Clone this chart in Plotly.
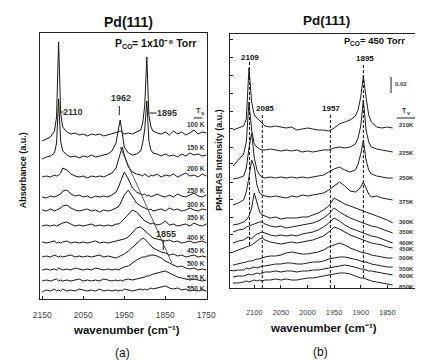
import plotly.graph_objects as go

W, H = 424, 360
FONT = "Liberation Sans, Arial, sans-serif"

# ---------------- Panel (a): Pd(111), P_CO = 1e-6 Torr ----------------
WN_A = [2150, 2140, 2130, 2120, 2115, 2110, 2105, 2100, 2090, 2080, 2070, 2060,
        2050, 2040, 2030, 2020, 2010, 2000, 1990, 1980, 1970, 1965, 1960, 1955,
        1950, 1940, 1930, 1920, 1910, 1905, 1900, 1895, 1890, 1885, 1880, 1870,
        1860, 1850, 1840, 1830, 1820, 1810, 1800, 1790, 1780, 1770, 1760, 1750]

TEMPS_A = ["100 K", "150 K", "200 K", "250 K", "300 K", "350 K",
           "400 K", "450 K", "500 K", "525 K", "550 K"]
OFFSETS_A = [164, 142, 122, 102, 88, 73, 56, 42, 29, 18, 8]

A_100K = [-6, -4, -2, 4, 18, 93, 22, 8, 3, 1, 2, 0, 1, -1, 1, 0, 1, -1, 0, 1, 2, 3, 4, 3,
          1, 2, 1, 3, 5, 12, 30, 78, 20, 8, 4, 2, 1, 3, 0, 4, 1, 3, 0, 2, 5, 1, 3, 2]
A_150K = [-2, 0, 1, 4, 14, 58, 16, 6, 2, 0, 1, -1, 1, 0, 2, 0, 1, 2, 3, 6, 14, 26, 37, 24,
          10, 4, 2, 3, 6, 14, 28, 56, 16, 7, 4, 3, 1, 3, 1, 2, 0, 3, 1, 4, 2, 3, 1, 2]
A_200K = [0, 1, 0, 2, 1, 2, 4, 9, 7, 3, 1, 0, 1, -1, 1, 0, 1, 0, 2, 4, 9, 16, 25, 30,
          22, 10, 5, 3, 2, 1, 3, 1, 0, 2, 1, 3, 0, 2, 1, 3, 0, 2, 4, 1, 2, 0, 3, 1]
A_250K = [0, -1, 1, 0, 1, 2, 3, 6, 7, 3, 1, 2, 0, 1, -1, 1, 0, 1, 0, 2, 5, 9, 15, 21,
          25, 18, 9, 5, 3, 2, 3, 1, 2, 0, 1, 3, 1, 0, 2, 0, 3, 1, 0, 2, 4, 1, 0, 2]
A_300K = [1, 0, 2, 0, 1, 2, 3, 5, 6, 3, 1, 0, 1, 2, 0, 1, -1, 1, 0, 1, 3, 4, 7, 11,
          16, 21, 14, 8, 5, 4, 3, 2, 1, 2, 0, 1, 2, 0, 3, 1, 2, 0, 1, 3, 1, 0, 2, 1]
A_350K = [0, 1, 0, 1, 0, 1, 2, 3, 4, 2, 0, 1, 0, 1, 2, 0, 1, 0, 1, 0, 2, 2, 3, 5,
          7, 11, 16, 14, 9, 7, 5, 4, 3, 2, 3, 1, 2, 5, 1, 2, 0, 1, 2, 0, 3, 1, 0, 2]
A_400K = [1, 0, 1, 2, 0, 1, 0, 1, 2, 0, 1, 0, 1, 0, 1, 2, 0, 1, 0, 1, 2, 2, 3, 3,
          4, 6, 10, 15, 16, 14, 12, 10, 8, 7, 5, 4, 3, 2, 3, 1, 2, 0, 1, 2, 0, 1, 2, 0]
A_450K = [0, 1, 0, 2, 1, 0, 1, 0, 1, 2, 0, 1, 0, 1, 0, 1, 2, 0, 1, 0, -1, 0, 1, 2,
          3, 6, 10, 14, 18, 19, 18, 16, 13, 11, 9, 7, 5, 4, 2, 3, 1, 2, 0, 1, 2, 0, 1, 0]
A_500K = [0, 1, 0, 1, 0, 2, 1, 0, 1, 0, 2, 1, 0, 1, 0, 2, 1, 0, 1, 0, 1, 0, 1, 2,
          3, 4, 7, 10, 12, 13, 13, 14, 14, 15, 15, 14, 12, 9, 7, 5, 3, 4, 2, 1, 2, 0, 1, 0]
A_525K = [0, 1, 0, 1, 2, 0, 1, 0, 1, 0, 1, 2, 0, 1, 0, 1, 0, 2, 1, 0, 1, 0, 1, 0,
          1, 2, 1, 2, 3, 3, 4, 5, 5, 6, 7, 8, 9, 10, 8, 6, 4, 3, 2, 1, 2, 1, 0, 1]
A_550K = [-1, 1, 0, 2, 0, 1, 0, 2, 0, 1, 0, 2, 1, 0, 1, 0, 2, 0, 1, 0, 1, 0, 1, 0,
          2, 1, 0, 1, 2, 1, 2, 1, 2, 3, 2, 3, 4, 5, 3, 2, 3, 1, 2, 0, 1, 0, 1, 0]
SPECTRA_A = [A_100K, A_150K, A_200K, A_250K, A_300K, A_350K,
             A_400K, A_450K, A_500K, A_525K, A_550K]
TICKS_A = [2150, 2050, 1950, 1850, 1750]

# ---------------- Panel (b): Pd(111), P_CO = 450 Torr ----------------
WN_B = [2140, 2130, 2120, 2115, 2110, 2105, 2100, 2095, 2090, 2085, 2080, 2070,
        2060, 2050, 2040, 2030, 2020, 2010, 2000, 1990, 1980, 1970, 1960, 1950,
        1940, 1930, 1920, 1910, 1905, 1900, 1895, 1890, 1885, 1880, 1870, 1860,
        1850, 1840]

TEMPS_B = ["210K", "225K", "250K", "375K", "300K", "350K",
           "400K", "450K", "500K", "550K", "600K", "650K"]
OFFSETS_B = [161, 138, 110, 91, 70, 61, 52, 45, 30, 22, 15, 7]

B_210K = [-3, -1, 1, 8, 59, 25, 12, 9, 6, 3, 1, 0, 1, 0, -1, 0, -3, -2, -1, -2, -3, -3, -4, -1,
          3, 5, 7, 11, 17, 30, 51, 30, 12, 5, 0, -1, 0, -1]
B_225K = [-16, -10, -4, 8, 48, 20, 6, 3, 1, 0, 0, 1, 0, -1, 0, -1, 0, -2, -1, -2, -1, 0, 0, 2,
          3, 2, 3, 6, 12, 24, 50, 20, 8, 3, 1, 0, -1, -2]
B_250K = [-1, 0, 2, 10, 30, 45, 20, 8, 3, 1, 0, 1, 0, 1, 0, 1, 0, 1, 0, 1, 2, 3, 6, 9,
          11, 8, 6, 8, 14, 24, 38, 18, 8, 4, 2, 1, 0, 0]
B_375K = [-8, -6, -3, 5, 20, 37, 30, 12, 4, 2, 1, 0, 1, 0, -1, 1, 0, 2, 1, 2, 3, 4, 7, 11,
          15, 11, 6, 5, 7, 10, 15, 9, 3, 0, 1, -1, -2, -3]
B_300K = [-7, -6, -4, -2, 2, 10, 25, 15, 6, 3, 2, 0, 1, -1, 0, 0, 0, 1, 1, 3, 5, 8, 12, 20,
          17, 14, 12, 10, 9, 8, 7, 6, 5, 4, 2, 0, -2, -5]
B_350K = [-5, -3, -2, 0, 1, 2, 3, 4, 5, 5, 3, 1, 0, 1, -1, 0, 1, 2, 3, 4, 6, 9, 13, 19,
          15, 12, 9, 7, 6, 5, 4, 3, 2, 1, 0, -2, -4, -6]
B_400K = [-7, -5, -4, -2, -1, -3, 0, 2, 3, 4, 3, 1, 0, 1, 0, 1, 0, 2, 3, 4, 6, 9, 13, 18,
          15, 11, 8, 6, 5, 4, 3, 2, 1, 0, -1, -3, -5, -7]
B_450K = [-9, -7, -5, -4, -3, -2, 0, 2, 4, 5, 3, 1, 0, -1, 0, 1, 0, 1, 2, 3, 5, 7, 11, 16,
          14, 11, 8, 6, 5, 4, 3, 2, 1, 0, -1, -2, -4, -5]
B_500K = [-7, -6, -5, -4, -3, -3, -2, -1, -1, 0, 1, 2, 2, 3, 5, 6, 5, 4, 4, 5, 6, 8, 11, 13,
          15, 13, 10, 8, 7, 6, 5, 5, 4, 3, 2, 1, 0, 0]
B_550K = [-5, -4, -4, -2, -3, -2, -1, -2, -1, 0, 0, 1, 2, 2, 3, 3, 2, 2, 3, 4, 4, 5, 7, 8,
          9, 9, 8, 7, 6, 5, 4, 4, 3, 2, 1, 0, -1, -1]
B_600K = [-4, -3, -3, -2, -1, -2, -1, 0, -1, 0, 1, 1, 2, 1, 2, 2, 1, 2, 2, 3, 3, 4, 5, 6,
          7, 8, 7, 6, 5, 4, 4, 3, 2, 2, 1, 0, -1, -2]
B_650K = [-2, -2, -1, 0, -1, 0, 1, 0, 1, 0, 1, 1, 2, 1, 2, 1, 1, 2, 3, 3, 4, 5, 6, 7,
          8, 8, 7, 5, 4, 3, 3, 2, 1, 0, -1, -2, -3, -4]
SPECTRA_B = [B_210K, B_225K, B_250K, B_375K, B_300K, B_350K,
             B_400K, B_450K, B_500K, B_550K, B_600K, B_650K]
TICKS_B = [2100, 2050, 2000, 1950, 1900, 1850]
YTICKS_B = [0, 18, 36, 54, 71, 89, 106, 125, 141, 160, 177, 195, 213, 231, 249]
DASHED_B = [(2109, 43, 226), (2085, 0, 175), (1957, 0, 175), (1895, 10, 224)]

# ---------------- layout constants (pixel positions) ----------------
LABEL_Y_A = [124, 147, 168, 190, 204, 218, 237, 250, 263, 277, 288]
LABEL_Y_B = [125, 153, 178, 202, 222, 232, 243, 249, 258, 269, 276, 287]


def px(x):
    return x / W


def py(y):
    return 1 - y / H


fig = go.Figure()
for name, off, rel in zip(TEMPS_A, OFFSETS_A, SPECTRA_A):
    fig.add_trace(go.Scatter(x=WN_A, y=[off + v for v in rel], mode="lines", name=name,
                             line=dict(color="#161616", width=1),
                             xaxis="x", yaxis="y", showlegend=False, hoverinfo="skip"))
for name, off, rel in zip(TEMPS_B, OFFSETS_B, SPECTRA_B):
    fig.add_trace(go.Scatter(x=WN_B, y=[off + v for v in rel], mode="lines", name=name,
                             line=dict(color="#1e1e1e", width=1),
                             xaxis="x2", yaxis="y2", showlegend=False, hoverinfo="skip"))

ann = []


def text(t, x, y, size, angle=0, color="#111", anchor="center"):
    ann.append(dict(text=t, x=px(x), y=py(y), xref="paper", yref="paper",
                    showarrow=False, xanchor=anchor, yanchor="middle",
                    textangle=angle, font=dict(family=FONT, size=size, color=color)))


# panel (a) texts
text("<b>Pd(111)</b>", 126, 22, 14)
text("<b>P</b>", 110, 43, 10.5, anchor="left")
text("<b>CO</b>", 117.5, 47, 7, anchor="left")
text("<b>= 1x10⁻⁶ Torr</b>", 128, 43, 10.5, anchor="left")
text("<b>2110</b>", 69, 112, 9, color="#333")
text("<b>1962</b>", 118, 98, 9, color="#333")
text("<b>1895</b>", 166, 113, 9, color="#333")
text("<b>1855</b>", 165, 234, 9, color="#333")
text("<b>T</b>", 194.5, 110, 7.5, color="#333", anchor="left")
text("<b>s</b>", 199.5, 113, 6, color="#333", anchor="left")
for t, y in zip(TEMPS_A, LABEL_Y_A):
    text("<b>%s</b>" % t, 196, y, 6.5, color="#333")
text("<b>Absorbance (a.u.)</b>", 17, 170, 9, angle=-90)
text("<b>wavenumber (cm⁻¹)</b>", 124, 330, 11.5)
text("(a)", 120, 353, 12)

# panel (b) texts
text("<b>Pd(111)</b>", 332, 20, 13.5)
text("<b>P</b>", 348.5, 40, 9.5, anchor="left")
text("<b>CO</b>", 354.5, 43.5, 6.5, anchor="left")
text("<b>= 450 Torr</b>", 365, 40, 9.5, anchor="left")
text("<b>2109</b>", 253, 57, 8)
text("<b>1895</b>", 372, 59, 8)
text("<b>2085</b>", 268, 108, 8)
text("<b>1957</b>", 337, 108, 8)
text("<b>0.02</b>", 409, 84, 6, color="#444")
text("<b>T</b>", 408.5, 110, 7, color="#333", anchor="left")
text("<b>v</b>", 413.5, 113, 5.5, color="#333", anchor="left")
for t, y in zip(TEMPS_B, LABEL_Y_B):
    text("<b>%s</b>" % t, 415, y, 6, color="#333")
text("<b>PM-IRAS Intensity (a.u.)</b>", 220, 160, 9, angle=-90)
text("<b>wavenumber (cm⁻¹)</b>", 329, 328, 11.5)
text("(b)", 326, 352, 12)

shapes = []
LINE = dict(color="#222", width=1)
# panel (a) peak markers / guide line
shapes.append(dict(type="line", xref="x", yref="y", x0=2106, x1=2098, y0=187, y1=187, line=LINE))
shapes.append(dict(type="line", xref="x", yref="y", x0=1962, x1=1962, y0=184, y1=193, line=LINE))
shapes.append(dict(type="line", xref="x", yref="y", x0=1889, x1=1871, y0=186, y1=186, line=LINE))
shapes.append(dict(type="line", xref="x", yref="y", x0=1855, x1=1855, y0=49, y1=58, line=LINE))
shapes.append(dict(type="line", xref="x", yref="y", x0=1960, x1=1834, y0=152, y1=36,
                   line=dict(color="#333", width=0.8)))
shapes.append(dict(type="line", xref="paper", yref="paper", x0=px(194), x1=px(203),
                   y0=py(118), y1=py(118), line=LINE))
# panel (b) dashed peak lines, scale bar, T_v underline
for x, y0, y1 in DASHED_B:
    shapes.append(dict(type="line", xref="x2", yref="y2", x0=x, x1=x, y0=y0, y1=y1,
                       line=dict(color="#111", width=1, dash="3px,2px")))
shapes.append(dict(type="line", xref="x2", yref="y2", x0=1843, x1=1843, y0=195, y1=211, line=LINE))
shapes.append(dict(type="line", xref="paper", yref="paper", x0=px(405), x1=px(424),
                   y0=py(118), y1=py(118), line=LINE))

axis_common = dict(showline=True, linecolor="#222", linewidth=1, showgrid=False,
                   zeroline=False)

fig.update_layout(
    width=W, height=H, autosize=False,
    margin=dict(l=0, r=0, t=0, b=0),
    paper_bgcolor="white", plot_bgcolor="white",
    showlegend=False,
    xaxis=dict(domain=[px(34), px(208)], range=[2156, 1748], anchor="y", mirror=True,
               ticks="inside", ticklen=3, tickcolor="#222", tickvals=TICKS_A,
               ticktext=[str(v) for v in TICKS_A], ticklabelstandoff=8,
               tickfont=dict(family=FONT, size=8.5, color="#444"), **axis_common),
    yaxis=dict(domain=[py(299), py(33)], range=[0, 266], anchor="x", mirror=True,
               ticks="", showticklabels=False, **axis_common),
    xaxis2=dict(domain=[px(232), 1.0], range=[2145.2, 1798], anchor="y2", mirror=True,
                ticks="inside", ticklen=3, tickcolor="#222", tickvals=TICKS_B,
                ticktext=[str(v) for v in TICKS_B], ticklabelstandoff=17,
                tickfont=dict(family=FONT, size=7.5, color="#444"), **axis_common),
    yaxis2=dict(domain=[py(288), py(34)], range=[0, 254], anchor="x2", mirror=False,
                ticks="inside", ticklen=3, tickcolor="#222", tickvals=YTICKS_B,
                showticklabels=False, **axis_common),
    annotations=ann,
    shapes=shapes,
)

fig.write_html("out.html")
